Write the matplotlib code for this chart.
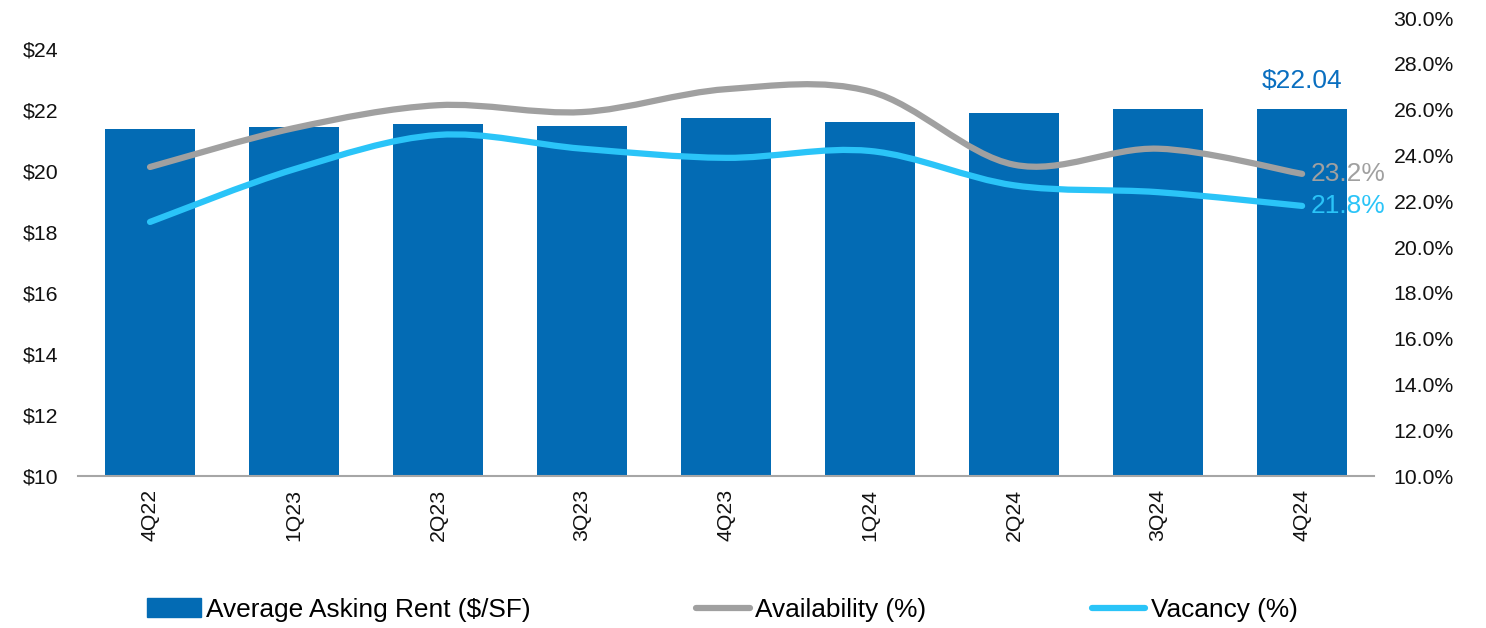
import numpy as np
import matplotlib.pyplot as plt
from matplotlib.path import Path
from matplotlib.patches import PathPatch
from matplotlib.lines import Line2D
from matplotlib.patches import Patch

plt.rcParams['font.family'] = ['Liberation Sans', 'DejaVu Sans']

# quarterly market stats
quarters = ['4Q22', '1Q23', '2Q23', '3Q23', '4Q23', '1Q24', '2Q24', '3Q24', '4Q24']
asking_rent = [21.38, 21.44, 21.54, 21.48, 21.74, 21.61, 21.90, 22.01, 22.04]
availability = [23.5, 25.2, 26.2, 25.9, 26.9, 26.8, 23.6, 24.3, 23.2]
vacancy = [21.1, 23.4, 24.9, 24.3, 23.9, 24.2, 22.7, 22.4, 21.8]

bar_color = '#036BB4'
avail_color = '#A0A0A0'
vac_color = '#2AC4F8'


# smooth curve through the points (cubic bezier, catmull-rom style control points)
def smooth_path(xs, ys, t=1/6):
    pts = np.column_stack([xs, ys]).astype(float)
    n = len(pts)
    verts = [pts[0]]
    codes = [Path.MOVETO]
    for i in range(n - 1):
        p0 = pts[i - 1] if i > 0 else pts[i]
        p1 = pts[i]
        p2 = pts[i + 1]
        p3 = pts[i + 2] if i + 2 < n else pts[i + 1]
        c1 = p1 + (p2 - p0) * t
        c2 = p2 - (p3 - p1) * t
        verts += [c1, c2, p2]
        codes += [Path.CURVE4] * 3
    return Path(verts, codes)


fig = plt.figure(figsize=(14.86, 6.28), dpi=100)
ax = fig.add_axes([0.0525, 0.242, 0.8722, 0.729])
x = np.arange(len(quarters))

ax.bar(x, asking_rent, width=0.63, color=bar_color, zorder=2)
ax.set_ylim(10, 25)
ax.set_xlim(-0.5, len(quarters) - 0.5)
ax.set_yticks(np.arange(10, 25, 2))
ax.set_yticklabels(['$%d' % v for v in np.arange(10, 25, 2)])
ax.set_xticks(x)
ax.set_xticklabels(quarters, rotation=90)
ax.tick_params(axis='both', length=0, labelsize=15.3, colors='#111111')
ax.tick_params(axis='x', pad=9)
ax.tick_params(axis='y', pad=40)
for lbl in ax.get_yticklabels():
    lbl.set_horizontalalignment('left')
for s in ['top', 'right', 'left']:
    ax.spines[s].set_visible(False)
ax.spines['bottom'].set_color('#A6A6A6')
ax.spines['bottom'].set_linewidth(1.5)

ax2 = ax.twinx()
ax2.set_ylim(10, 30)
ax2.set_yticks(np.arange(10, 31, 2))
ax2.set_yticklabels(['%.1f%%' % v for v in np.arange(10, 31, 2)])
ax2.tick_params(axis='y', length=0, labelsize=15.3, colors='#111111', pad=14)
for s in ['top', 'right', 'left', 'bottom']:
    ax2.spines[s].set_visible(False)

for series, col in [(availability, avail_color), (vacancy, vac_color)]:
    patch = PathPatch(smooth_path(x, series), fill=False, edgecolor=col,
                      linewidth=4.5, capstyle='round', joinstyle='round', zorder=3)
    ax2.add_patch(patch)

# value labels on the latest quarter
ax.annotate('$%.2f' % asking_rent[-1], (x[-1], asking_rent[-1]),
            xytext=(0, 11), textcoords='offset points', ha='center', va='bottom',
            fontsize=19, color='#0A6FC0')
ax2.annotate('%.1f%%' % availability[-1], (x[-1], availability[-1]),
             xytext=(6, 0), textcoords='offset points', ha='left', va='center',
             fontsize=19, color=avail_color)
ax2.annotate('%.1f%%' % vacancy[-1], (x[-1], vacancy[-1]),
             xytext=(6, 0), textcoords='offset points', ha='left', va='center',
             fontsize=19, color=vac_color)

handles = [Patch(color=bar_color),
           Line2D([], [], color=avail_color, linewidth=4.5, solid_capstyle='round'),
           Line2D([], [], color=vac_color, linewidth=4.5, solid_capstyle='round')]
labels = ['Average Asking Rent ($/SF)', 'Availability (%)', 'Vacancy (%)']
fig.legend(handles, labels, loc='center', bbox_to_anchor=(0.486, 0.029), ncol=3,
           frameon=False, fontsize=18.9, handlelength=2.05, handletextpad=0.2,
           columnspacing=6.3)

fig.savefig('out.png', dpi=100)
